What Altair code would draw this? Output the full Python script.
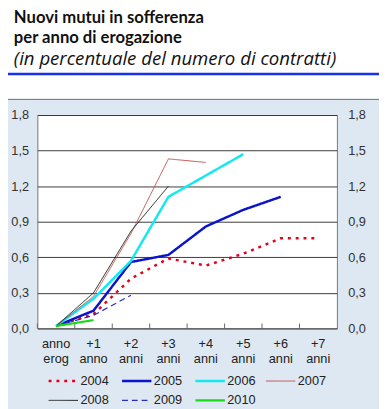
import altair as alt
import pandas as pd

categories = ["anno erog", "+1 anno", "+2 anni", "+3 anni", "+4 anni", "+5 anni", "+6 anni", "+7 anni"]
years = ["2004", "2005", "2006", "2007", "2008", "2009", "2010"]

v2004 = [0.02, 0.12, 0.42, 0.59, 0.53, 0.63, 0.76, 0.76]
v2005 = [0.02, 0.15, 0.56, 0.62, 0.86, 1.00, 1.11]
v2006 = [0.02, 0.25, 0.57, 1.11, 1.29, 1.47]
v2007 = [0.02, 0.27, 0.80, 1.43, 1.40]
v2008 = [0.02, 0.30, 0.82, 1.20]
v2009 = [0.02, 0.11, 0.28]
v2010 = [0.02, 0.07]

y_ticks = [0, 0.3, 0.6, 0.9, 1.2, 1.5, 1.8]

series = [v2004, v2005, v2006, v2007, v2008, v2009, v2010]
colors = ["#e2001a", "#0a14cc", "#14e8f0", "#c4504c", "#1a1a1a", "#2a2ac4", "#18dc18"]
dashes = [[3, 5], [1, 0], [1, 0], [1, 0], [1, 0], [6, 4], [1, 0]]
widths = [2.5, 2.5, 2.5, 1.0, 1.0, 1.2, 2.2]

rows = []
for yr, vals in zip(years, series):
    for i, (c, v) in enumerate(zip(categories, vals)):
        rows.append({"anno": yr, "periodo": c, "valore": v, "idx": i})
df = pd.DataFrame(rows)
cat_df = pd.DataFrame({"periodo": categories})

label_expr = "replace(format(datum.value, '.1f'), '.', ',')"

x_scale = alt.Scale(type="band", paddingInner=0, paddingOuter=0, domain=categories)
y_scale = alt.Scale(domain=[0, 1.8], nice=False)

lines = alt.Chart(df).mark_line(clip=False).encode(
    x=alt.X("periodo:N", sort=categories, bandPosition=0.5, scale=x_scale, axis=None),
    y=alt.Y("valore:Q", scale=y_scale,
            axis=alt.Axis(title=None, values=y_ticks, labelExpr=label_expr, ticks=False,
                          domain=False, grid=True, gridColor="#3a3a3a", gridWidth=1,
                          labelFontSize=13, labelColor="#333", labelPadding=9, orient="left")),
    color=alt.Color("anno:N", scale=alt.Scale(domain=years, range=colors),
                    legend=alt.Legend(orient="none", legendX=10, legendY=265, columns=4,
                                      direction="horizontal",
                                      title=None, symbolType="M-1,0H5", symbolSize=100,
                                      labelFontSize=13, labelColor="#222", labelOffset=21,
                                      columnPadding=8, rowPadding=6, padding=0)),
    strokeDash=alt.StrokeDash("anno:N", scale=alt.Scale(domain=years, range=dashes)),
    strokeWidth=alt.StrokeWidth("anno:N", scale=alt.Scale(type="ordinal", domain=years, range=widths)),
    order=alt.Order("idx:Q"),
)

right = alt.Chart(df).mark_point(opacity=0).encode(
    x=alt.X("periodo:N", sort=categories, bandPosition=0.5, scale=x_scale, axis=None),
    y=alt.Y("valore:Q", scale=y_scale,
            axis=alt.Axis(title=None, values=y_ticks, labelExpr=label_expr, ticks=False,
                          domain=False, grid=False, labelFontSize=13, labelColor="#333",
                          labelPadding=11, orient="right")),
)

ticks = alt.Chart(cat_df).mark_rule(color="#666", strokeWidth=1).encode(
    x=alt.X("periodo:N", sort=categories, bandPosition=0, scale=x_scale, axis=None),
    y=alt.value(213), y2=alt.value(218),
)

xlabels = alt.Chart(cat_df).mark_text(
    lineBreak=" ", fontSize=13, lineHeight=15.3, color="#222", align="center",
    baseline="alphabetic", font="Liberation Sans",
).encode(
    x=alt.X("periodo:N", sort=categories, bandPosition=0.5, scale=x_scale, axis=None),
    y=alt.value(237.7),
    text="periodo:N",
)

one = pd.DataFrame({"k": [0]})
white_top = alt.Chart(one).mark_rect(color="white").encode(
    x=alt.value(-40), x2=alt.value(360), y=alt.value(-125), y2=alt.value(-16))
blue_rule = alt.Chart(one).mark_rule(color="#1530f0", strokeWidth=2.5).encode(
    x=alt.value(-40), x2=alt.value(360), y=alt.value(-42))
panel_rule = alt.Chart(one).mark_rule(color="#5a7080", strokeWidth=1).encode(
    x=alt.value(-40), x2=alt.value(360), y=alt.value(-16))

chart = alt.layer(white_top, blue_rule, panel_rule, ticks, xlabels, lines, right).resolve_axis(
    y="independent"
).properties(
    width=306, height=218,
    autosize=alt.AutoSizeParams(type="none"),
    padding={"left": 30, "top": 105, "right": 43, "bottom": 78},
    background="#dde8f2",
    title=alt.TitleParams(
        text=["Nuovi mutui in sofferenza", "per anno di erogazione"],
        subtitle=["(in percentuale del numero di contratti)"],
        anchor="start", frame="group", dx=-24, offset=-79,
        font="Lato", fontSize=17, fontWeight="bold", color="#111", lineHeight=20,
        subtitleFont="Open Sans", subtitleFontSize=19, subtitleFontStyle="italic",
        subtitleColor="#111", subtitleLineHeight=23, subtitlePadding=4,
    ),
).configure(font="Liberation Sans").configure_view(stroke="#777", strokeWidth=1, fill="white")

chart.save("out.html", embed_options={"renderer": "svg", "actions": False})
